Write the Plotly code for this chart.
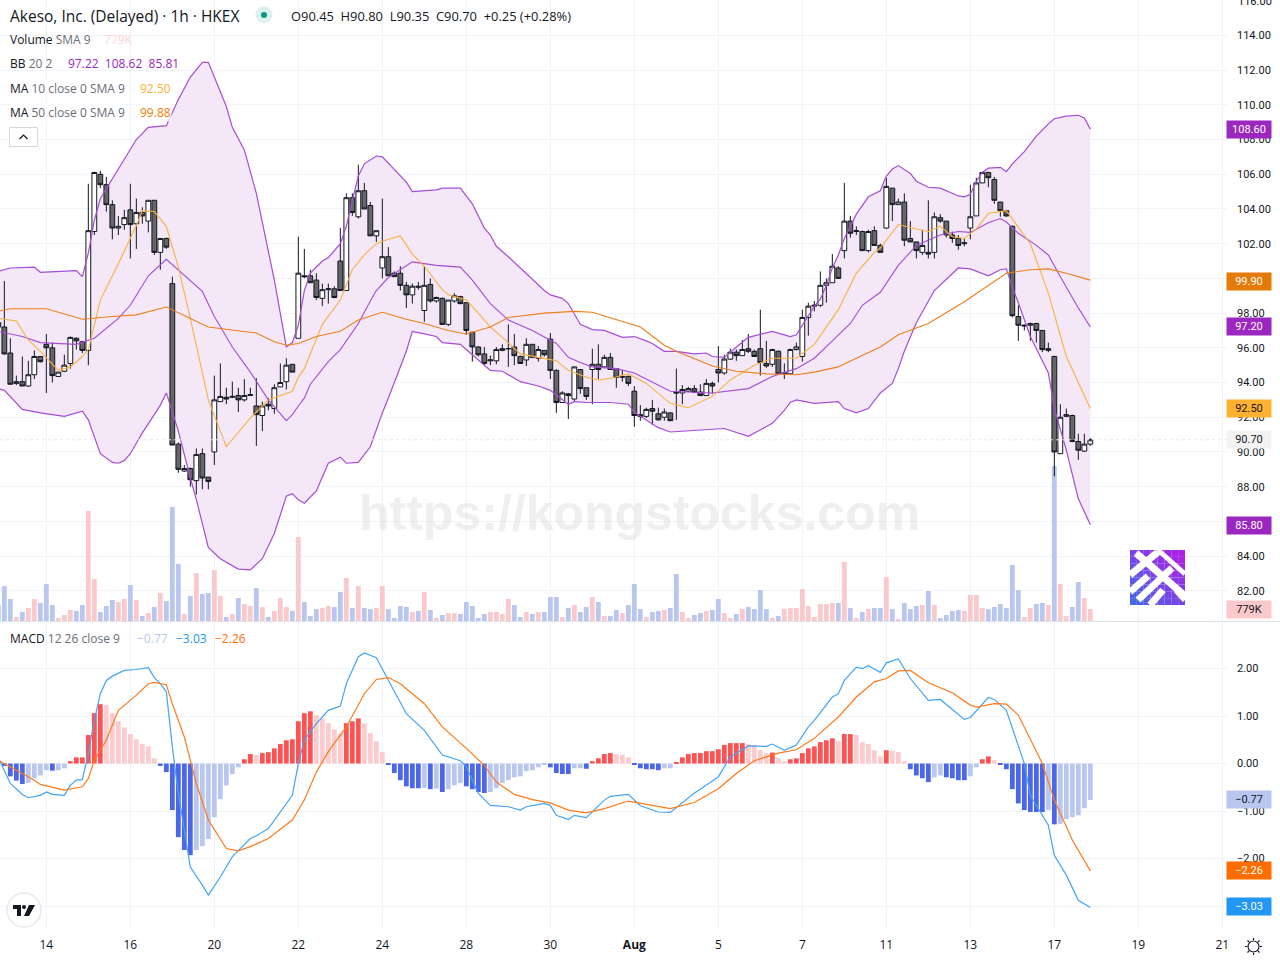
import plotly.graph_objects as go

bars = list(range(-1, 182))
opens = [97.45,97.2,95.7,93.95,94.05,93.8,94.45,95.5,96.2,96.0,94.35,94.65,95.1,96.55,96.35,95.85,102.7,106.0,105.4,104.25,
102.9,103.1,103.95,103.15,103.8,103.3,104.5,101.5,102.3,99.7,90.45,88.9,89.05,88.35,89.9,88.55,90.0,92.9,93.15,93.15,
93.25,93.0,93.25,92.65,92.1,92.75,92.5,93.75,94.05,95.05,96.55,100.15,100.15,99.9,98.85,99.35,99.4,101.0,99.3,104.65,
103.55,105.05,104.2,102.45,100.6,101.25,100.3,100.3,99.6,99.05,99.55,98.15,99.65,98.7,98.85,97.35,98.7,98.95,98.6,96.9,
96.05,95.65,95.25,95.25,95.85,95.95,96.05,95.5,95.3,96.2,95.4,95.85,96.5,94.7,92.85,93.35,93.05,94.75,93.7,94.75,
95.05,94.9,95.45,94.8,94.3,94.35,93.5,92.15,92.05,92.5,92.2,92.0,92.25,93.45,93.4,93.5,93.65,93.45,93.25,93.95,
94.75,94.55,95.35,95.75,95.55,95.95,95.8,95.95,95.1,95.05,95.8,94.5,94.5,95.9,95.5,97.75,98.4,98.45,99.6,99.75,
100.6,101.6,103.3,102.7,102.7,101.6,102.75,101.9,102.9,105.2,104.25,104.4,102.3,102.1,101.5,101.5,101.5,103.5,103.3,102.5,
102.3,102.0,102.9,103.6,105.5,106.1,105.7,104.4,103.9,103.0,97.8,97.25,97.3,97.4,97.0,95.85,95.5,89.9,92.05,92.1,
90.6,90.05,90.45]
highs = [97.6,99.85,96.55,94.4,95.5,95.25,95.85,95.5,96.8,96.3,94.6,95.6,96.65,96.6,96.4,105.45,106.15,106.2,105.85,104.5,
103.6,103.95,105.45,104.6,104.1,104.5,104.5,102.3,102.35,100.1,90.55,89.25,89.1,90.2,90.2,88.55,94.4,95.1,93.7,94.05,
93.7,94.2,93.7,94.25,92.9,93.1,93.9,95.1,95.4,95.05,102.4,101.7,100.5,100.3,99.7,99.7,99.55,102.9,104.9,104.9,
106.55,105.5,104.4,102.75,104.6,101.8,100.4,100.7,99.8,99.7,99.8,100.7,100.0,98.95,98.9,98.75,99.15,99.0,98.6,96.9,
96.1,96.05,95.55,96.05,96.2,97.35,96.8,95.55,96.55,96.2,96.1,95.85,96.85,94.75,93.5,93.4,94.9,94.75,93.7,95.95,
96.2,95.6,95.7,94.8,94.7,94.4,93.8,92.7,92.55,93.0,92.55,92.5,92.3,94.8,93.85,93.75,93.85,93.9,94.2,94.05,
96.1,95.6,95.95,95.9,96.45,96.8,95.9,98.2,96.4,95.95,95.85,95.1,95.95,96.3,98.2,98.6,98.7,100.4,100.0,101.4,
100.7,105.5,103.6,103.0,102.75,102.8,103.0,102.0,105.8,105.2,104.6,104.9,103.3,102.1,102.8,104.5,103.8,103.7,103.3,102.7,
102.5,102.3,105.4,105.8,106.15,106.15,105.85,104.4,103.95,103.05,98.45,97.35,97.45,97.45,97.0,96.3,95.55,92.75,92.5,92.15,
91.05,91.05,90.8]
lows = [97.1,95.6,93.9,93.85,93.8,93.75,94.2,95.15,93.4,94.0,94.35,94.6,94.8,95.9,95.7,95.0,102.5,105.2,103.85,102.25,
102.5,102.8,101.15,101.7,103.15,102.65,101.35,100.5,101.7,90.4,88.8,88.85,88.0,87.55,87.85,87.85,89.25,92.9,92.75,93.1,
92.3,92.9,93.25,90.35,91.2,92.4,92.2,93.75,93.6,94.6,96.55,100.0,99.75,98.75,98.4,98.55,98.85,99.3,99.3,103.6,
103.45,104.0,102.45,102.1,100.0,100.15,100.1,99.3,98.3,98.55,99.35,97.5,98.6,98.6,97.35,97.25,98.6,98.5,96.75,95.2,
95.5,95.0,95.0,95.05,95.8,94.9,95.0,95.1,94.95,95.4,95.2,95.5,94.2,92.25,92.85,91.9,92.9,93.35,93.0,92.75,
94.2,94.85,94.75,93.7,94.05,93.8,91.45,91.8,91.95,91.55,91.8,91.8,91.8,91.85,92.75,93.45,93.4,93.25,93.25,93.35,
94.0,94.45,95.3,95.25,95.55,95.7,95.5,94.4,94.85,94.9,94.5,94.2,94.5,95.85,95.2,96.7,98.1,98.35,98.6,99.75,
100.0,101.15,102.35,102.5,101.6,101.5,101.9,101.5,102.85,103.3,104.25,101.85,102.1,101.15,101.35,101.15,101.15,103.2,102.35,102.05,
101.65,101.85,102.25,103.6,105.5,105.25,104.3,103.55,103.55,97.75,96.4,97.0,96.4,96.3,95.75,95.75,88.6,89.9,92.0,90.6,
89.55,90.0,90.35]
closes = [97.2,95.65,93.9,94.05,93.8,94.45,95.5,95.2,96.0,94.4,94.6,95.0,96.6,96.4,95.85,102.75,106.1,105.4,104.25,102.9,
103.0,103.5,103.1,103.8,103.6,104.5,101.5,102.3,101.8,90.4,89.0,89.05,88.4,89.85,88.5,88.3,93.0,93.2,93.05,93.2,
93.0,93.25,93.3,92.15,92.65,92.65,93.7,94.0,95.0,94.6,100.3,100.1,99.75,98.9,99.35,99.4,98.9,99.3,104.65,103.8,
105.05,104.0,102.45,102.75,101.25,100.15,100.1,99.6,99.05,99.55,99.5,99.6,98.7,98.9,97.35,98.75,99.0,98.55,97.0,96.05,
95.6,95.1,95.3,95.9,95.95,95.95,95.55,95.1,96.2,95.45,95.9,95.6,94.7,92.85,93.4,93.25,94.9,93.65,93.2,95.05,
94.75,95.45,94.75,94.3,94.35,93.95,92.1,92.05,92.45,92.35,91.85,92.3,91.8,93.4,93.6,93.65,93.45,93.25,93.95,93.8,
94.55,95.35,95.75,95.55,95.9,95.8,95.5,95.15,94.95,95.9,94.5,94.55,95.9,96.05,97.75,98.4,98.45,99.6,99.75,100.7,
100.0,103.3,102.6,102.75,101.6,102.7,101.9,101.5,105.3,104.25,104.4,102.2,102.1,101.6,101.9,101.4,103.55,103.3,102.5,102.3,
101.9,102.05,103.55,105.5,106.1,105.8,104.5,103.9,103.6,97.85,97.3,97.3,97.4,97.0,95.9,95.95,90.0,92.0,92.15,90.6,
90.1,90.45,90.7]

volumes_k = [1040,2275,1430,260,585,845,1430,1170,2405,1040,195,390,715,650,1040,7150,2730,585,975,1365,
1235,1430,2340,1365,325,520,910,1820,1300,7410,3705,455,1625,3120,1755,1820,3315,1625,260,455,
1495,1105,975,2145,910,260,650,1495,910,650,5460,1235,325,779,845,975,910,1885,2795,845,
2275,845,779,845,2275,779,195,975,910,585,650,1885,715,195,390,520,520,455,1235,975,
195,455,585,585,455,1430,1040,260,585,455,585,585,1560,1560,260,845,1040,585,910,1560,
1235,325,325,715,520,1040,2405,779,260,585,650,715,845,3055,585,195,390,520,650,715,
1430,520,195,455,779,910,779,2015,779,195,325,779,845,845,2080,975,260,1105,1105,1170,
1170,3835,845,195,585,779,845,845,2860,779,130,1170,779,975,1040,1950,1040,195,390,650,
715,650,1690,1690,845,779,910,1105,845,3640,2015,260,845,1105,1170,1040,10075,2405,325,910,
2535,1495,779]

hist_bars = list(range(0, 182))
macd_hist = [-0.05,-0.27,-0.36,-0.43,-0.41,-0.31,-0.25,-0.14,-0.15,-0.14,-0.10,0.05,0.13,0.13,0.60,1.06,1.25,1.23,1.06,0.89,
0.76,0.62,0.51,0.41,0.36,0.11,-0.05,-0.18,-0.98,-1.55,-1.82,-1.93,-1.82,-1.74,-1.59,-1.13,-0.75,-0.46,-0.22,-0.08,
0.09,0.20,0.18,0.22,0.24,0.32,0.41,0.49,0.51,0.89,1.06,1.10,1.02,0.95,0.85,0.72,0.64,0.85,0.89,0.95,
0.85,0.64,0.47,0.24,-0.03,-0.20,-0.35,-0.48,-0.52,-0.52,-0.51,-0.54,-0.53,-0.60,-0.54,-0.46,-0.41,-0.48,-0.54,-0.60,
-0.62,-0.60,-0.52,-0.41,-0.35,-0.29,-0.27,-0.16,-0.14,-0.08,-0.03,-0.08,-0.20,-0.22,-0.22,-0.10,-0.10,-0.11,0.05,0.11,
0.20,0.22,0.20,0.18,0.13,-0.01,-0.10,-0.12,-0.12,-0.14,-0.10,-0.10,0.03,0.13,0.20,0.22,0.22,0.26,0.26,0.30,
0.39,0.43,0.43,0.43,0.41,0.39,0.28,0.22,0.23,0.11,0.05,0.09,0.11,0.22,0.32,0.36,0.45,0.49,0.53,0.47,
0.62,0.62,0.60,0.45,0.41,0.28,0.15,0.28,0.27,0.24,0.05,-0.12,-0.25,-0.31,-0.39,-0.29,-0.25,-0.29,-0.31,-0.35,
-0.35,-0.27,-0.08,0.09,0.15,0.07,-0.03,-0.12,-0.54,-0.84,-0.98,-1.02,-1.02,-1.02,-0.98,-1.28,-1.27,-1.17,-1.13,-1.09,
-0.94,-0.77]

bb_upper_at = [-1,1,5,6,12,13,14,15,16,18,21,22,24,27,29,31,33,34,37,38,40,42,45,47,48,49,50,51,53,54,56,57,58,59,60,62,63,67,68,72,73,76,78,79,80,81,82,84,86,88,90,91,93,94,96,98,100,103,105,107,108,110,112,115,117,118,120,122,124,128,131,132,134,135,136,137,138,139,140,141,142,144,146,147,148,149,151,152,154,156,159,160,161,162,163,164,166,167,168,170,172,174,175,177,179,180,181]
bb_upper = [100.4,100.6,100.65,100.35,100.45,100.1,101.45,103.35,104.6,105.75,107.4,108.0,108.7,108.8,110.3,111.6,112.45,112.45,109.9,108.7,107.4,104.9,99.9,96.05,96.3,97.3,99.3,100.3,101.0,101.2,102.0,103.0,104.5,105.9,106.6,107.05,107.0,105.55,105.0,105.1,105.2,105.2,104.3,103.6,102.9,102.5,101.85,101.25,100.6,100.0,99.3,99.05,98.85,98.55,97.35,97.05,97.0,96.6,96.65,96.4,96.25,95.8,95.8,95.65,95.7,95.5,95.45,96.05,96.6,96.95,96.65,96.75,97.8,98.4,98.8,99.6,100.6,101.35,102.3,103.0,103.7,104.7,105.05,105.9,106.3,106.5,106.05,105.6,105.25,105.2,104.75,104.7,104.85,105.6,106.1,106.35,106.4,106.15,106.6,107.3,108.2,108.9,109.2,109.35,109.4,109.25,108.6]

bb_mid_at = [-1,3,6,12,15,19,21,24,27,33,35,38,41,44,47,48,49,50,51,54,56,59,61,62,64,68,72,76,78,81,84,88,92,94,96,98,102,105,111,118,124,128,132,135,138,141,143,146,149,152,156,159,161,164,166,167,169,172,174,175,176,179,181]
bb_mid = [96.95,96.65,96.3,96.2,96.55,97.7,98.45,100.15,101.1,99.25,97.8,96.05,94.6,93.0,91.8,92.15,92.65,93.1,93.9,95.2,95.9,97.4,98.7,99.3,100.05,100.95,100.75,100.65,99.9,98.55,97.6,97.0,96.25,95.45,95.15,94.9,94.8,94.55,93.5,93.4,93.65,94.35,94.8,95.4,96.4,97.4,98.45,99.2,100.75,101.9,102.5,102.7,102.65,103.2,103.45,103.25,102.6,101.9,101.35,100.7,100.1,98.3,97.2]

bb_lower_at = [-1,0,3,6,10,13,14,16,18,19,20,21,22,23,25,26,27,29,31,32,34,36,39,41,43,45,47,48,49,50,52,54,56,57,59,61,63,64,67,68,70,72,73,76,78,81,83,86,89,91,94,95,97,101,104,105,106,109,111,115,120,124,128,130,131,132,135,139,140,142,144,146,148,149,150,152,155,159,161,164,166,167,168,169,171,174,175,177,179,181]
bb_lower = [93.65,93.55,92.45,92.25,92.05,92.35,91.85,89.9,89.4,89.35,89.5,89.9,90.5,91.1,92.15,92.7,93.4,91.2,88.5,87.25,84.5,83.85,83.25,83.2,83.85,85.3,87.45,87.6,87.25,87.05,87.75,89.35,89.7,89.35,89.4,90.3,92.25,93.1,95.8,96.95,96.8,96.65,96.3,96.2,95.6,94.7,94.65,94.05,93.8,93.55,92.75,92.9,92.85,92.85,92.75,92.3,92.05,91.4,91.15,91.25,91.35,90.9,91.65,92.4,92.85,93.0,92.8,92.9,92.5,92.25,92.5,93.4,93.95,94.8,95.8,97.45,99.3,100.6,100.55,100.15,100.5,100.55,99.5,98.6,96.65,94.55,92.5,90.1,87.3,85.8]

ma10_at = [-1,2,4,6,9,11,13,14,15,16,19,22,23,25,27,29,31,34,37,38,41,44,48,49,50,53,56,58,60,62,64,66,68,70,73,74,77,79,81,83,86,89,92,94,97,99,101,104,107,111,114,118,121,125,128,132,135,139,142,144,145,146,149,152,154,156,158,160,162,164,167,171,174,177,181]
ma10 = [97.7,97.55,96.45,95.8,94.7,94.9,95.5,95.9,97.3,98.75,100.85,103.05,103.9,103.85,103.0,100.65,97.7,93.0,90.3,90.7,91.95,93.0,93.5,94.3,94.8,97.35,98.75,100.5,101.35,102.0,102.25,102.45,101.4,100.7,99.35,99.05,98.75,98.0,97.2,96.6,95.65,95.45,95.25,94.7,94.3,94.15,94.25,94.5,93.95,92.8,92.55,93.2,94.15,95.0,95.4,95.4,96.2,98.2,100.3,101.1,101.5,101.75,103.1,102.85,102.7,103.0,102.4,102.3,102.85,103.75,103.9,102.0,99.15,95.5,92.5]

ma50_at = [-1,1,7,13,18,22,27,34,42,45,47,49,52,56,59,63,67,70,74,77,81,84,90,95,98,106,110,112,118,122,127,132,135,139,142,146,149,154,160,164,167,171,174,177,181]
ma50 = [98.1,98.25,98.25,97.65,97.8,97.9,98.35,97.2,96.85,96.35,96.15,96.25,96.65,96.95,97.6,98.05,97.65,97.4,97.0,96.8,97.2,97.75,98.0,98.1,98.05,97.2,96.15,95.8,94.95,94.65,94.5,94.45,94.6,94.9,95.4,96.05,96.75,97.4,98.65,99.6,100.3,100.5,100.55,100.3,99.9]

macd_at = [-1,1,3,4,6,7,8,10,11,12,13,14,15,16,17,18,20,22,24,25,26,27,28,29,30,31,33,34,36,38,41,42,44,46,47,48,49,50,52,54,56,57,59,60,62,63,65,67,70,72,73,76,77,79,81,84,86,87,90,91,92,94,95,97,100,101,104,106,109,111,115,116,119,121,124,127,128,130,132,134,135,138,139,140,142,143,144,146,147,149,151,154,156,160,161,164,165,167,170,171,174,175,177,179,181]
macd_line = [0.12,-0.42,-0.65,-0.72,-0.67,-0.60,-0.65,-0.67,-0.46,-0.35,-0.34,0.21,0.91,1.47,1.75,1.84,1.96,1.98,2.02,1.81,1.68,1.51,0.35,-0.63,-1.40,-2.18,-2.56,-2.77,-2.39,-1.96,-1.58,-1.52,-1.37,-1.02,-0.84,-0.67,0.0,0.50,0.84,1.12,1.21,1.68,2.25,2.33,2.23,2.0,1.54,1.05,0.70,0.36,0.18,0.06,-0.07,-0.63,-0.88,-0.91,-0.98,-0.91,-0.84,-0.88,-1.09,-1.18,-1.09,-1.14,-0.77,-0.69,-0.65,-0.89,-1.02,-1.03,-0.62,-0.54,-0.28,0.14,0.37,0.36,0.41,0.28,0.39,0.77,0.91,1.40,1.47,1.75,2.03,2.0,2.06,1.92,2.12,2.2,1.79,1.33,1.35,0.93,0.97,1.39,1.35,1.12,0.0,-0.67,-1.30,-1.93,-2.35,-2.88,-3.03]

signal_at = [-1,2,5,6,10,13,14,15,17,19,22,24,25,27,28,30,32,34,36,37,39,41,44,48,50,52,54,57,60,62,64,66,70,73,77,80,82,85,88,91,94,97,100,104,108,111,115,119,122,125,129,132,135,139,142,145,147,149,151,154,158,161,162,165,167,169,173,175,178,181]
signal_line = [0.07,-0.14,-0.35,-0.44,-0.56,-0.49,-0.32,0.07,0.49,1.12,1.44,1.68,1.71,1.66,1.26,0.56,-0.42,-1.19,-1.58,-1.79,-1.84,-1.75,-1.58,-1.19,-0.77,-0.18,0.25,0.77,1.47,1.77,1.81,1.68,1.26,0.77,0.32,-0.04,-0.39,-0.65,-0.76,-0.83,-0.98,-1.04,-0.95,-0.79,-0.88,-0.95,-0.82,-0.53,-0.21,0.06,0.22,0.29,0.53,0.98,1.40,1.72,1.79,1.95,1.96,1.70,1.49,1.23,1.19,1.26,1.25,1.02,0.0,-0.77,-1.61,-2.26]

price_ticks = list(range(82, 116, 2))
macd_ticks = [2, 1, 0, -1, -2, -3]
macd_tick_labels = ["2.00", "1.00", "0.00", "−1.00", "−2.00", ""]
time_ticks = list(range(7, 204, 14))
time_labels = ["14","16","20","22","24","28","30","<b>Aug</b>","5","7","11","13","17","19","21"]

W, H = 1280, 960
def px(x): return x / W
def py(y): return 1 - y / H

FONT = "Open Sans"
NUM_FONT = "Roboto"
INK = "#131722"
GRID = "#f0f3fa"
PURPLE = "#A64CD6"
vol_colors = ["#FBC9CC" if c >= o else "#B8C6F0" for o, c in zip(opens, closes)]
hist_colors = []
prev_col = None
for k, v in enumerate(macd_hist):
    if k == 0:
        col = "#4B66E8" if v < 0 else "#FF5252"
    elif v == macd_hist[k - 1]:
        col = prev_col
    elif v >= 0:
        col = "#FF5252" if v > macd_hist[k - 1] else "#FDCBCE"
    else:
        col = "#4B66E8" if v < macd_hist[k - 1] else "#B9C7F0"
    hist_colors.append(col)
    prev_col = col

fig = go.Figure()
fig.add_trace(go.Bar(x=bars, y=volumes_k, marker=dict(color=vol_colors, line_width=0), width=0.8,
                     xaxis="x", yaxis="y", hoverinfo="skip"))
fig.add_trace(go.Scatter(x=bb_upper_at, y=bb_upper, mode="lines", line=dict(width=0), xaxis="x", yaxis="y2", hoverinfo="skip"))
fig.add_trace(go.Scatter(x=bb_lower_at, y=bb_lower, mode="lines", line=dict(width=0), fill="tonexty",
                         fillcolor="#F3E7F8", xaxis="x", yaxis="y2", hoverinfo="skip"))
fig.add_trace(go.Candlestick(x=bars, open=opens, high=highs, low=lows, close=closes,
                             increasing=dict(line=dict(color=INK, width=1), fillcolor="#FFFFFF"),
                             decreasing=dict(line=dict(color=INK, width=1), fillcolor="#666666"),
                             whiskerwidth=0, xaxis="x", yaxis="y3", hoverinfo="skip"))
for xs, ys, col, w in [(bb_upper_at, bb_upper, PURPLE, 1.2), (bb_mid_at, bb_mid, PURPLE, 1.1), (bb_lower_at, bb_lower, PURPLE, 1.2),
                       (ma10_at, ma10, "#FBB13F", 1.1), (ma50_at, ma50, "#EE7F1A", 1.1)]:
    fig.add_trace(go.Scatter(x=xs, y=ys, mode="lines", line=dict(color=col, width=w), xaxis="x", yaxis="y3", hoverinfo="skip"))
fig.add_trace(go.Bar(x=hist_bars, y=macd_hist, marker=dict(color=hist_colors, line_width=0), width=0.8,
                     xaxis="x2", yaxis="y4", hoverinfo="skip"))
fig.add_trace(go.Scatter(x=macd_at, y=macd_line, mode="lines", line=dict(color="#42A5F5", width=1.2), xaxis="x2", yaxis="y4", hoverinfo="skip"))
fig.add_trace(go.Scatter(x=signal_at, y=signal_line, mode="lines", line=dict(color="#FF7A1A", width=1.2), xaxis="x2", yaxis="y4", hoverinfo="skip"))

x_range = [(0 - 4.33) / 6, (1227 - 4.33) / 6]
p_range = [80.26, 116.04]
x_dom = [0, 1227 / W]
pane_dom = [py(621), 1]
macd_dom = [py(930), py(622)]
tickfont = dict(family=NUM_FONT, size=11, color=INK)
timefont = dict(family=FONT, size=12, color=INK)

shapes = [
    dict(type="line", xref="paper", yref="paper", x0=0, x1=1, y0=py(621.5), y1=py(621.5), line=dict(color="#E0E3EB", width=1)),
    dict(type="line", xref="x", yref="y3", x0=x_range[0], x1=x_range[1], y0=90.7, y1=90.7, line=dict(color="#E6E6E6", width=1, dash="dot")),
    dict(type="circle", xref="paper", yref="paper", x0=px(255.5), x1=px(272.5), y0=py(23.5), y1=py(6.5), fillcolor="#DDF1EE", line_width=0),
    dict(type="circle", xref="paper", yref="paper", x0=px(261), x1=px(267), y0=py(18), y1=py(12), fillcolor="#089981", line_width=0),
    dict(type="rect", xref="paper", yref="paper", x0=px(9.5), x1=px(37.5), y0=py(146.5), y1=py(127.5), fillcolor="white", line=dict(color="#D6D8E0", width=1)),
    dict(type="path", xref="paper", yref="paper", path=f"M {px(19.5)} {py(139)} L {px(23.5)} {py(135)} L {px(27.5)} {py(139)}", line=dict(color=INK, width=1.2)),
    dict(type="circle", xref="paper", yref="paper", x0=px(7), x1=px(41), y0=py(927), y1=py(893), fillcolor="white", line=dict(color="#E8E9EE", width=1.5)),
    dict(type="path", xref="paper", yref="paper", fillcolor=INK, line_width=0,
         path=f"M {px(13)} {py(905)} L {px(21)} {py(905)} L {px(21)} {py(916)} L {px(17)} {py(916)} L {px(17)} {py(909)} L {px(13)} {py(909)} Z"),
    dict(type="circle", xref="paper", yref="paper", fillcolor=INK, line_width=0, x0=px(22), x1=px(26), y0=py(909), y1=py(905)),
    dict(type="path", xref="paper", yref="paper", fillcolor=INK, line_width=0,
         path=f"M {px(29)} {py(905)} L {px(35)} {py(905)} L {px(29)} {py(916)} L {px(24)} {py(916)} Z"),
    dict(type="circle", xref="paper", yref="paper", x0=px(1248), x1=px(1259), y0=py(952), y1=py(941), fillcolor="white", line=dict(color=INK, width=1.2)),
]
for x0, y0, x1, y1 in [(1253.5, 938, 1253.5, 940), (1253.5, 953, 1253.5, 955), (1245, 946.5, 1247, 946.5), (1260, 946.5, 1262, 946.5),
                       (1247.5, 940.5, 1249, 942), (1258, 951, 1259.5, 952.5), (1247.5, 952.5, 1249, 951), (1258, 942, 1259.5, 940.5)]:
    shapes.append(dict(type="line", xref="paper", yref="paper", x0=px(x0), x1=px(x1), y0=py(y0), y1=py(y1), line=dict(color=INK, width=1.2)))

n = 8
for a in range(n):
    for b in range(n):
        t = (a + (n - 1 - b)) / (2 * (n - 1))
        r = int(70 + (175 - 70) * t)
        g = int(105 + (30 - 105) * t)
        bl = int(232 + (228 - 232) * t)
        xx = 1130 + a * 55 / n
        yy = 550 + b * 55 / n
        shapes.append(dict(type="rect", xref="paper", yref="paper", x0=px(xx), x1=px(xx + 55 / n), y0=py(yy + 55 / n), y1=py(yy),
                           fillcolor=f"rgb({r},{g},{bl})", line_width=0))
for x0, y0, x1, y1, w in [(1130, 575, 1158, 552, 7), (1138, 600, 1172, 568, 7), (1136, 553, 1185, 596, 7), (1148, 562, 1178, 590, 5),
                          (1130, 592, 1148, 576, 7), (1158, 550, 1185, 574, 5), (1150, 605, 1163, 590, 7), (1176, 590, 1185, 600, 6)]:
    shapes.append(dict(type="line", xref="paper", yref="paper", x0=px(x0), x1=px(x1), y0=py(y0), y1=py(y1), line=dict(color="white", width=w)))

def note(text, x, y, size=12, color=INK, bg=None, family=FONT, **kw):
    d = dict(text=text, xref="paper", yref="paper", x=px(x), y=py(y), xanchor="left", yanchor="middle", showarrow=False,
             font=dict(family=family, size=size, color=color), align="left", borderpad=0)
    if bg:
        d["bgcolor"] = bg
    d.update(kw)
    return d

GR = "#6A6D78"
def sp(t, c): return f'<span style="color:{c}">{t}</span>'

annotations = [
    note("<b>https://kongstocks.com</b>", 639, 513, size=50, color="rgba(190,190,190,0.24)", family="Liberation Sans", xanchor="center"),
    note("Akeso, Inc. (Delayed) · 1h · HKEX", 9, 16, size=15.5),
    note("O90.45  H90.80  L90.35  C90.70  +0.25 (+0.28%)", 290, 16, size=12.9),
    note("Volume " + sp("SMA 9", GR), 9, 40),
    note("779K", 103, 40, color="#FDD5D7"),
    note("BB " + sp("20 2", GR), 9, 64),
    note("97.22  108.62  85.81", 67, 64, color="#9C27C0"),
    note("MA " + sp("10 close 0 SMA 9", GR), 9, 88, bg="rgba(255,255,255,0.75)"),
    note("92.50", 139, 88, color="#FFB02E", bg="rgba(255,255,255,0.75)"),
    note("MA " + sp("50 close 0 SMA 9", GR), 9, 112, bg="rgba(255,255,255,0.75)"),
    note("99.88", 139, 112, color="#F57C00", bg="rgba(255,255,255,0.75)"),
    note("MACD " + sp("12 26 close 9", GR), 9, 638),
    note("−0.77", 136, 638, color="#B9C7F0"),
    note("−3.03", 175, 638, color="#2196F3"),
    note("−2.26", 214, 638, color="#FF6D00"),
    note("116.00", 1237, 1, size=11, family=NUM_FONT),
]
def tag(text, y, bg, fg):
    return note(text, 1226, y, size=11, color=fg, bg=bg, family=NUM_FONT, width=44, height=17, align="center")
for text, y, bg, fg in [("108.60", 129, "#9C27C0", "white"), ("99.90", 281, "#E67A06", "white"), ("97.20", 327, "#9C27C0", "white"),
                        ("92.50", 408, "#FFB02E", INK), ("90.70", 440, "#F3F3F3", INK), ("85.80", 525, "#9C27C0", "white"),
                        ("779K", 609, "#FBC9CC", INK), ("−0.77", 799, "#B9C7F0", INK), ("−2.26", 870, "#FF6D00", "white"), ("−3.03", 906, "#2196F3", "white")]:
    annotations.append(tag(text, y, bg, fg))

fig.update_layout(
    width=W, height=H, margin=dict(l=0, r=0, t=0, b=0, autoexpand=False), paper_bgcolor="white", plot_bgcolor="white",
    showlegend=False, hovermode=False, barmode="overlay", boxmode="overlay", boxgap=0.2, boxgroupgap=0,
    xaxis=dict(domain=x_dom, range=x_range, anchor="y", tickvals=time_ticks, showticklabels=False, showgrid=True, gridcolor=GRID,
               zeroline=False, showline=False, rangeslider=dict(visible=False), ticks=""),
    yaxis=dict(domain=pane_dom, range=[0, 621 * 65], visible=False, fixedrange=True),
    yaxis2=dict(domain=pane_dom, overlaying="y", anchor="x", side="right", range=p_range, tickvals=price_ticks,
                ticktext=[f"{v:.2f}" for v in price_ticks], tickfont=tickfont, showgrid=True, gridcolor=GRID, zeroline=False,
                showline=False, ticks="", ticklabelstandoff=9),
    yaxis3=dict(domain=pane_dom, overlaying="y", anchor="x", side="right", range=p_range, visible=False),
    xaxis2=dict(domain=x_dom, range=x_range, anchor="y4", tickvals=time_ticks, ticktext=time_labels, tickfont=timefont,
                showgrid=True, gridcolor=GRID, zeroline=False, showline=False, ticks="", ticklabelstandoff=6),
    yaxis4=dict(domain=macd_dom, anchor="x2", side="right", range=[-3.505, 2.98], tickvals=macd_ticks,
                ticktext=macd_tick_labels, tickfont=tickfont, showgrid=True, gridcolor=GRID,
                zeroline=False, showline=False, ticks="", ticklabelstandoff=9),
    shapes=shapes, annotations=annotations,
)

fig.write_html("out.html", config={"displayModeBar": False},
               post_script="document.body.style.margin='0';document.documentElement.style.overflow='hidden';")
